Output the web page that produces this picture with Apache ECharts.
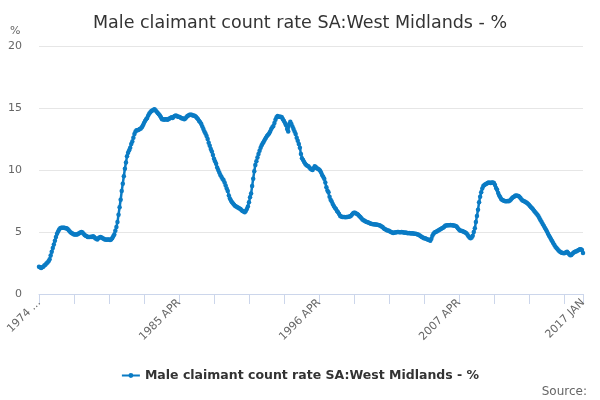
<!DOCTYPE html>
<html>
<head>
<meta charset="utf-8">
<script src="https://cdn.jsdelivr.net/npm/echarts@6/dist/echarts.min.js"></script>
<style>
html, body { margin: 0; padding: 0; background: #fff; }
#chart { width: 600px; height: 400px; }
</style>
</head>
<body>
<div id="chart"></div>
<script>
// monthly series, 1974 APR .. 2017 JAN
const startYear = 1974;
const startMonth = 3; // APR
const monthNames = ['JAN','FEB','MAR','APR','MAY','JUN','JUL','AUG','SEP','OCT','NOV','DEC'];
const labelIndex = [0, 132, 264, 396, 513];
const yTicks = [0, 5, 10, 15, 20];

const rate = [
	2.2, 2.15, 2.1, 2.15, 2.2, 2.3, 2.35, 2.45, 2.55, 2.65, 2.8, 3.1,
	3.4, 3.7, 4.0, 4.3, 4.6, 4.85, 5.05, 5.2, 5.3, 5.35, 5.35, 5.35,
	5.35, 5.3, 5.3, 5.25, 5.15, 5.05, 4.95, 4.9, 4.85, 4.8, 4.8, 4.8,
	4.8, 4.85, 4.9, 4.95, 5.0, 4.95, 4.85, 4.75, 4.7, 4.65, 4.6, 4.6,
	4.6, 4.62, 4.6, 4.65, 4.6, 4.5, 4.45, 4.4, 4.5, 4.55, 4.6, 4.55,
	4.5, 4.45, 4.4, 4.4, 4.38, 4.4, 4.4, 4.35, 4.4, 4.5, 4.65, 4.8,
	5.1, 5.4, 5.8, 6.4, 7.0, 7.6, 8.3, 8.9, 9.5, 10.1, 10.6, 11.1,
	11.4, 11.6, 11.8, 12.1, 12.3, 12.6, 12.9, 13.1, 13.2, 13.2, 13.25, 13.3,
	13.35, 13.45, 13.6, 13.8, 13.95, 14.1, 14.2, 14.4, 14.55, 14.65, 14.75, 14.8,
	14.85, 14.9, 14.8, 14.7, 14.6, 14.5, 14.4, 14.25, 14.1, 14.1, 14.05, 14.1,
	14.1, 14.05, 14.1, 14.15, 14.2, 14.25, 14.2, 14.3, 14.35, 14.4, 14.35, 14.3,
	14.3, 14.25, 14.2, 14.15, 14.15, 14.1, 14.15, 14.25, 14.35, 14.4, 14.45, 14.45,
	14.45, 14.4, 14.4, 14.35, 14.3, 14.2, 14.1, 13.95, 13.85, 13.7, 13.5, 13.3,
	13.1, 12.95, 12.75, 12.5, 12.2, 11.95, 11.7, 11.5, 11.2, 10.9, 10.7, 10.5,
	10.2, 10.0, 9.8, 9.6, 9.45, 9.3, 9.2, 9.0, 8.75, 8.5, 8.3, 7.95,
	7.7, 7.55, 7.4, 7.3, 7.2, 7.1, 7.05, 7.0, 6.95, 6.9, 6.85, 6.75,
	6.7, 6.65, 6.6, 6.7, 6.85, 7.05, 7.4, 7.8, 8.1, 8.7, 9.3, 9.9,
	10.4, 10.7, 11.0, 11.3, 11.55, 11.8, 12.0, 12.15, 12.3, 12.45, 12.6, 12.75,
	12.85, 12.95, 13.1, 13.3, 13.45, 13.55, 13.8, 14.05, 14.25, 14.35, 14.3, 14.3,
	14.3, 14.25, 14.1, 13.95, 13.8, 13.6, 13.3, 13.1, 13.7, 13.9, 13.7, 13.5,
	13.3, 13.1, 12.9, 12.6, 12.35, 12.1, 11.8, 11.3, 10.95, 10.8, 10.65, 10.5,
	10.4, 10.35, 10.3, 10.2, 10.1, 10.05, 10.0, 10.15, 10.3, 10.25, 10.15, 10.1,
	10.05, 9.95, 9.8, 9.6, 9.45, 9.3, 9.0, 8.6, 8.35, 8.2, 7.85, 7.6,
	7.45, 7.25, 7.1, 6.95, 6.85, 6.7, 6.6, 6.45, 6.3, 6.25, 6.2, 6.2,
	6.2, 6.18, 6.2, 6.2, 6.22, 6.25, 6.3, 6.4, 6.5, 6.55, 6.55, 6.5,
	6.45, 6.4, 6.3, 6.2, 6.1, 6.0, 5.95, 5.9, 5.85, 5.8, 5.78, 5.75,
	5.7, 5.67, 5.65, 5.63, 5.62, 5.6, 5.6, 5.58, 5.57, 5.55, 5.5, 5.45,
	5.4, 5.3, 5.25, 5.2, 5.15, 5.12, 5.1, 5.05, 5.0, 4.95, 4.92, 4.95,
	4.95, 4.98, 5.0, 5.0, 4.98, 4.97, 5.0, 4.97, 4.95, 4.93, 4.95, 4.92,
	4.9, 4.92, 4.9, 4.88, 4.9, 4.87, 4.85, 4.85, 4.83, 4.8, 4.78, 4.72,
	4.65, 4.6, 4.55, 4.5, 4.5, 4.45, 4.42, 4.38, 4.35, 4.3, 4.45, 4.7,
	4.85, 4.95, 5.0, 5.05, 5.1, 5.15, 5.2, 5.25, 5.3, 5.35, 5.4, 5.5,
	5.52, 5.55, 5.55, 5.55, 5.57, 5.55, 5.55, 5.52, 5.5, 5.48, 5.43, 5.3,
	5.2, 5.12, 5.1, 5.08, 5.05, 5.0, 4.95, 4.9, 4.8, 4.65, 4.55, 4.5,
	4.55, 4.7, 5.0, 5.3, 5.8, 6.3, 6.8, 7.4, 7.85, 8.2, 8.5, 8.7,
	8.8, 8.85, 8.9, 8.95, 9.0, 8.98, 8.95, 9.0, 9.0, 8.95, 8.8, 8.55,
	8.4, 8.15, 7.95, 7.8, 7.65, 7.58, 7.54, 7.5, 7.47, 7.48, 7.5, 7.47,
	7.55, 7.62, 7.72, 7.8, 7.85, 7.92, 7.95, 7.93, 7.9, 7.85, 7.75, 7.62,
	7.55, 7.5, 7.45, 7.4, 7.35, 7.28, 7.2, 7.1, 7.0, 6.92, 6.82, 6.7,
	6.6, 6.5, 6.4, 6.27, 6.1, 5.95, 5.8, 5.65, 5.5, 5.35, 5.2, 5.05,
	4.85, 4.7, 4.55, 4.4, 4.25, 4.1, 3.95, 3.82, 3.7, 3.6, 3.5, 3.42,
	3.36, 3.32, 3.3, 3.28, 3.3, 3.36, 3.4, 3.3, 3.2, 3.12, 3.15, 3.25,
	3.33, 3.38, 3.42, 3.45, 3.5, 3.55, 3.6, 3.6, 3.55, 3.3
];

let months = [];
for (let i = 0; i < rate.length; i++) {
	let m = startMonth + i;
	months.push((startYear + Math.floor(m / 12)) + ' ' + monthNames[m % 12]);
}

const font = 'DejaVu Sans';
const blue = '#0a7bc4';

let chart = echarts.init(document.getElementById('chart'));
chart.setOption({
	animation: false,
	title: [{
		text: 'Male claimant count rate SA:West Midlands - %',
		left: 'center',
		top: 9,
		textStyle: { fontFamily: font, fontSize: 17.5, fontWeight: 'normal', color: '#333' }
	}, {
		text: 'Source:',
		right: 8,
		top: 381,
		textStyle: { fontFamily: font, fontSize: 12, fontWeight: 'normal', color: '#666' }
	}],
	graphic: [{
		type: 'text',
		left: 10,
		top: 26,
		style: { text: '%', fontFamily: font, fontSize: 11, fill: '#666' }
	}],
	legend: {
		top: 364,
		left: 'center',
		itemWidth: 18,
		itemHeight: 6,
		textStyle: { fontFamily: font, fontSize: 12.5, fontWeight: 'bold', color: '#333' }
	},
	grid: { left: 39, right: 17, top: 46, bottom: 106 },
	xAxis: {
		type: 'category',
		data: months,
		boundaryGap: false,
		axisLine: { lineStyle: { color: '#ccd6eb' } },
		axisTick: {
			length: 10,
			lineStyle: { color: '#ccd6eb' },
			interval: function (idx) { return idx % 33 === 0 || idx === rate.length - 1; }
		},
		axisLabel: {
			rotate: 45,
			margin: 7,
			fontFamily: font,
			fontSize: 11,
			color: '#666',
			interval: function (idx) { return labelIndex.indexOf(idx) >= 0; },
			formatter: function (val, idx) { return idx === 0 ? val.slice(0, 4) + ' ...' : val; }
		}
	},
	yAxis: {
		type: 'value',
		min: yTicks[0],
		max: yTicks[yTicks.length - 1],
		interval: 5,
		axisLine: { show: false },
		axisTick: { show: false },
		splitLine: { lineStyle: { color: '#e6e6e6' } },
		axisLabel: { fontFamily: font, fontSize: 11, color: '#666', margin: 17 }
	},
	series: [{
		name: 'Male claimant count rate SA:West Midlands - %',
		type: 'line',
		data: rate,
		color: blue,
		symbol: 'circle',
		symbolSize: 4.5,
		showAllSymbol: true,
		lineStyle: { width: 2.5, color: blue },
		itemStyle: { color: blue }
	}]
});
</script>
</body>
</html>
